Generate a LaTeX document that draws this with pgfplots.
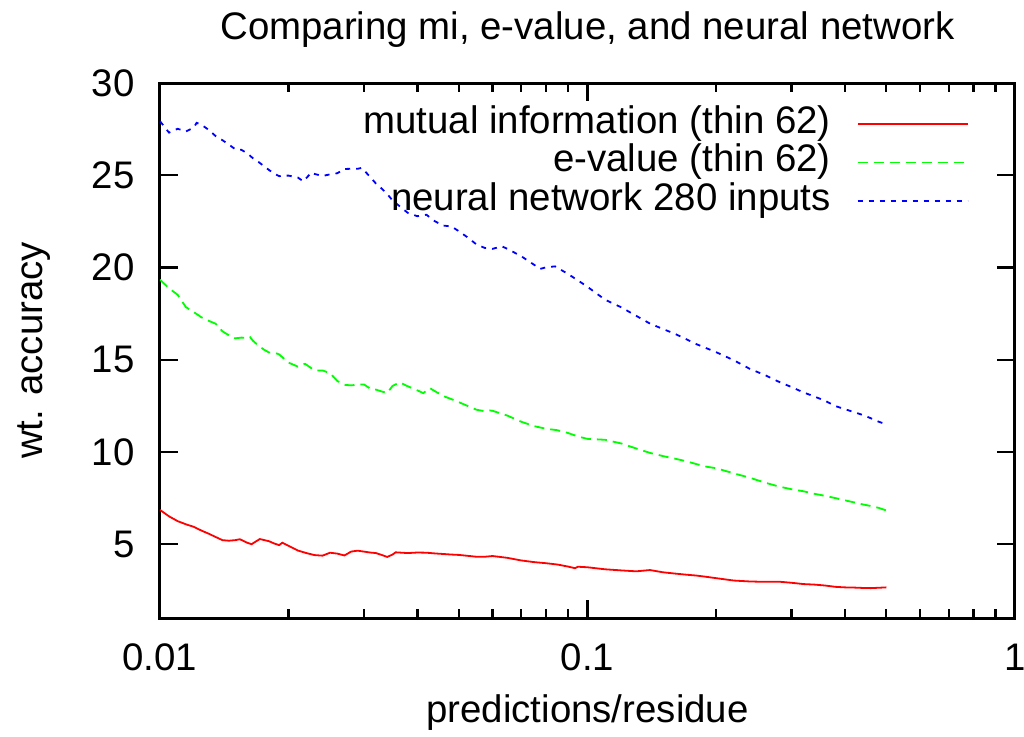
\documentclass[border=0pt]{standalone}
\usepackage{pgfplots}
\pgfplotsset{compat=1.18}
\usepackage{fontspec}
\setmainfont{Liberation Sans}
\newcommand{\fs}{\fontsize{19.2}{23}\selectfont}
\begin{document}
\begin{tikzpicture}[font=\fs]
\begin{axis}[
  name=ax,
  scale only axis,
  width=427.5pt, height=267.5pt,
  xmode=log,
  xmin=0.01, xmax=1,
  ymin=1, ymax=30,
  xtick={0.01,0.1,1},
  xticklabels={0.01,0.1,1},
  minor xtick={0.02,0.03,0.04,0.05,0.06,0.07,0.08,0.09,0.2,0.3,0.4,0.5,0.6,0.7,0.8,0.9},
  ytick={5,10,15,20,25,30},
  /pgf/number format/assume math mode=true,
  tick align=inside,
  major tick length=9pt,
  minor tick length=4.5pt,
  every tick/.style={black, line width=1.2pt},
  every minor tick/.style={black, line width=1.2pt},
  axis line style={line width=1.5pt},
  tick label style={font=\fs},
  xticklabel style={anchor=base, inner sep=0pt, yshift=-26pt},
  yticklabel style={anchor=east, inner sep=0pt, xshift=-12.5pt},
  title={Comparing mi, e-value, and neural network},
  title style={font=\fs, at={(axis description cs:0.5,1)}, anchor=base, yshift=15.9pt},
  xlabel={predictions/residue},
  xlabel style={font=\fs, at={(axis description cs:0.5,0)}, anchor=base, yshift=-52pt},
  ylabel={wt. accuracy},
  ylabel style={font=\fs, at={(axis description cs:0,0.5)}, anchor=base, yshift=58.5pt},
  legend plot pos=right,
  legend cell align=right,
  legend style={draw=none, fill=none, font=\fs, inner sep=0pt,
    at={(axis description cs:0.9462,0.955)}, anchor=north east,
    column sep=13pt, row sep=0pt,
    nodes={inner sep=0pt, text height=13pt, text depth=6.2pt}},
  legend image code/.code={\draw[#1] (0pt,1.3pt) -- (55pt,1.3pt);},
]
\addplot[red, line width=0.9pt] coordinates {
(0.0100,6.86) (0.0105,6.51) (0.0110,6.25) (0.0115,6.08) (0.0120,5.94) (0.0125,5.74)
(0.0130,5.57) (0.0135,5.39) (0.0140,5.22) (0.0145,5.19) (0.0150,5.22) (0.01538,5.27)
(0.0160,5.08) (0.01639,5.00) (0.0165,5.05) (0.01712,5.28) (0.0175,5.23) (0.0180,5.16)
(0.0185,5.04) (0.0190,4.95) (0.01933,5.08) (0.0200,4.91) (0.0210,4.66) (0.0220,4.52)
(0.0230,4.41) (0.0240,4.38) (0.0250,4.54) (0.0260,4.49) (0.0270,4.39) (0.0280,4.60)
(0.0290,4.65) (0.0300,4.60) (0.0310,4.55) (0.0320,4.52) (0.0330,4.42) (0.0340,4.31)
(0.0350,4.44) (0.03558,4.56) (0.0380,4.52) (0.0400,4.55) (0.0420,4.54) (0.0440,4.50)
(0.0460,4.47) (0.0480,4.44) (0.0500,4.42) (0.0525,4.37) (0.0550,4.32) (0.0575,4.32)
(0.0600,4.36) (0.0650,4.26) (0.0700,4.12) (0.0750,4.03) (0.0800,3.97) (0.0850,3.90)
(0.0900,3.79) (0.0935,3.70) (0.0950,3.78) (0.1000,3.75) (0.11,3.64) (0.12,3.58)
(0.13,3.53) (0.14,3.60) (0.15,3.48) (0.16,3.41) (0.17,3.35) (0.18,3.30) (0.19,3.23)
(0.20,3.16) (0.22,3.03) (0.24,2.98) (0.26,2.96) (0.28,2.97) (0.30,2.91) (0.32,2.84)
(0.34,2.81) (0.36,2.76) (0.38,2.69) (0.40,2.66) (0.42,2.65) (0.44,2.63) (0.46,2.62)
(0.48,2.64) (0.50,2.66)
};
\addlegendentry{mutual information (thin 62)}
\addplot[green, line width=0.9pt, dash pattern=on 5pt off 3pt] coordinates {
(0.0100,19.34) (0.0105,18.87) (0.0110,18.52) (0.0115,17.85) (0.0120,17.58) (0.0125,17.30)
(0.0130,17.11) (0.0135,16.95) (0.0140,16.54) (0.0145,16.32) (0.0150,16.16) (0.0155,16.20)
(0.0160,16.18) (0.01624,16.23) (0.0165,16.03) (0.0170,15.76) (0.0175,15.55) (0.0180,15.39)
(0.0185,15.39) (0.0190,15.29) (0.0195,15.06) (0.0200,14.84) (0.0210,14.63) (0.02184,14.78)
(0.0230,14.42) (0.0240,14.42) (0.0250,14.27) (0.0260,13.85) (0.0270,13.64) (0.0280,13.61)
(0.0290,13.65) (0.0300,13.66) (0.0310,13.44) (0.0320,13.38) (0.0330,13.28) (0.0340,13.20)
(0.0350,13.58) (0.0360,13.72) (0.03641,13.77) (0.0380,13.56) (0.0400,13.34) (0.04129,13.19)
(0.0420,13.32) (0.0428,13.46) (0.0440,13.29) (0.0460,13.03) (0.0480,12.87) (0.0500,12.70)
(0.0525,12.49) (0.0550,12.29) (0.0575,12.21) (0.05914,12.25) (0.0600,12.23) (0.0650,11.97)
(0.0700,11.64) (0.0750,11.40) (0.0800,11.26) (0.0850,11.18) (0.0900,11.03) (0.0950,10.84)
(0.1000,10.71) (0.11,10.66) (0.12,10.46) (0.13,10.19) (0.14,9.95) (0.15,9.78) (0.16,9.64)
(0.17,9.50) (0.18,9.34) (0.19,9.20) (0.20,9.12) (0.22,8.84) (0.24,8.60) (0.26,8.34)
(0.28,8.13) (0.30,7.98) (0.32,7.87) (0.34,7.73) (0.36,7.62) (0.38,7.50) (0.40,7.38)
(0.42,7.27) (0.44,7.16) (0.46,7.07) (0.48,6.97) (0.50,6.83)
};
\addlegendentry{e-value (thin 62)}
\addplot[blue, line width=0.9pt, dash pattern=on 2.5pt off 3pt] coordinates {
(0.0100,27.93) (0.0105,27.31) (0.0110,27.52) (0.0115,27.37) (0.0120,27.59) (0.01218,27.84)
(0.0125,27.74) (0.0130,27.46) (0.0135,27.12) (0.0140,26.90) (0.0145,26.66) (0.0150,26.41)
(0.0155,26.38) (0.0160,26.19) (0.0165,25.92) (0.0170,25.72) (0.0175,25.50) (0.0180,25.28)
(0.0185,25.09) (0.0190,24.95) (0.0195,24.98) (0.0200,24.98) (0.0210,24.88) (0.02164,24.67)
(0.0220,24.85) (0.02264,25.16) (0.0230,25.07) (0.0240,24.96) (0.0250,25.05) (0.0260,25.11)
(0.0270,25.34) (0.0280,25.35) (0.0290,25.35) (0.02964,25.40) (0.0300,25.27) (0.0310,24.92)
(0.0320,24.55) (0.0330,24.28) (0.0340,23.99) (0.0350,23.63) (0.0360,23.40) (0.0380,22.96)
(0.0400,22.78) (0.0420,22.86) (0.0440,22.50) (0.0460,22.27) (0.0480,22.23) (0.0500,21.97)
(0.0525,21.62) (0.0550,21.25) (0.0575,21.06) (0.0600,21.01) (0.0630,21.15) (0.0650,21.01)
(0.0700,20.61) (0.0750,20.15) (0.07742,19.92) (0.0800,20.01) (0.08395,20.06) (0.0850,19.99)
(0.0900,19.65) (0.0950,19.30) (0.1000,18.95) (0.11,18.25) (0.12,17.84) (0.13,17.38)
(0.14,16.96) (0.15,16.67) (0.16,16.41) (0.17,16.12) (0.18,15.84) (0.19,15.62) (0.20,15.41)
(0.22,14.97) (0.24,14.50) (0.26,14.17) (0.28,13.81) (0.30,13.52) (0.32,13.23) (0.34,13.00)
(0.36,12.77) (0.38,12.49) (0.40,12.32) (0.42,12.16) (0.44,12.01) (0.46,11.83) (0.48,11.64)
(0.50,11.50)
};
\addlegendentry{neural network 280 inputs}
\end{axis}
\pgfresetboundingbox
\path (ax.south west) ++(-80pt,-59pt) rectangle ++(512pt,368pt);
\end{tikzpicture}
\end{document}
